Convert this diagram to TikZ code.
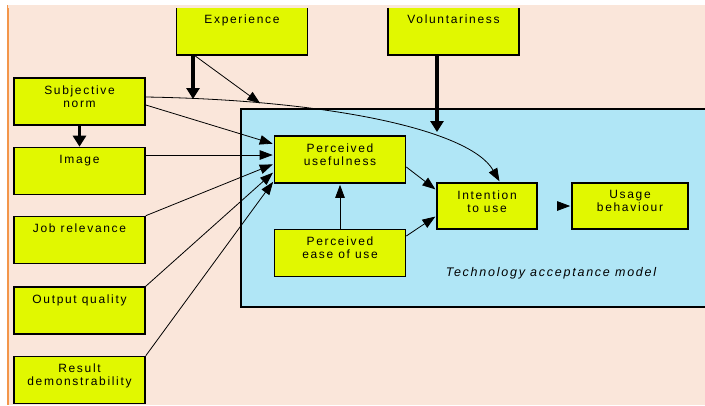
\documentclass[tikz,border=0pt]{standalone}
\usepackage{fontspec}
\setmainfont{Liberation Sans}[LetterSpace=14]
\usetikzlibrary{arrows.meta}
\definecolor{peach}{RGB}{250,230,218}
\definecolor{tamblue}{RGB}{176,230,246}
\definecolor{boxyellow}{RGB}{225,248,0}
\definecolor{edgeorange}{RGB}{243,150,75}
\begin{document}
\begin{tikzpicture}[x=1pt,y=-1pt,
  factor/.style={draw,line width=1.6pt,fill=boxyellow,minimum width=131pt,minimum height=47pt,
    inner sep=0pt,label={[factor text]north:#1}},
  factor text/.style={anchor=north,yshift=-8pt,align=center,inner sep=0pt,
    font=\fontsize{12}{13}\selectfont},
  thin arrow/.style={-{Triangle[length=13pt,width=9.5pt]},line width=0.8pt,shorten >=1pt},
  thick arrow/.style={-{Triangle[length=11pt,width=13pt]},line width=3.5pt}]

  % background and the TAM area
  \useasboundingbox (0,0) rectangle (705,405);
  \clip (0,0) rectangle (705,405);
  \fill[peach] (8,5) rectangle (705,405);
  \draw[edgeorange,line width=1.5pt] (8,5) -- (8,405);
  \draw[fill=tamblue,line width=1.5pt] (241,109) rectangle (712,307);
  \node[font=\fontsize{12.5}{14}\selectfont\itshape,xshift=1pt] (tamlabel) at (550,273) {Technology acceptance model};

  % external variables
  \node[factor=Experience,minimum height=48pt] (exper) at (242,31) {};
  \node[factor=Voluntariness,minimum height=48pt] (volun) at (453.5,31) {};
  \fill[peach] (8,5) rectangle (705,8.4);
  \node[factor={Subjective\\norm}] (subj) at (79.5,101.5) {};
  \node[factor=Image] (image) at (79.5,171) {};
  \node[factor=Job relevance] (jobrel) at (79.5,240) {};
  \node[factor=Output quality] (output) at (79.5,310.5) {};
  \node[factor={Result\\demonstrability}] (result) at (79.5,380) {};

  % TAM
  \node[factor={Perceived\\usefulness}] (pu) at (340,159.5) {};
  \node[factor={Perceived\\ease of use}] (peou) at (340,253) {};
  \node[factor={Intention\\to use},minimum width=100pt,minimum height=46pt] (itu) at (487,206) {};
  \node[factor={Usage\\behaviour},minimum width=116pt,minimum height=46pt] (ub) at (630,206) {};

  \coordinate (snorm) at (193,99);
  \coordinate (snorm2) at (261,104);
  \coordinate (volin) at (437,132);

  \draw[thin arrow] ([yshift=4.5pt]subj.east) .. controls (330,100) and (470,130) .. ([xshift=13pt]itu.north);
  \draw[thick arrow] ([xshift=-49pt]exper.south) -- (snorm);
  \draw[thin arrow] ([xshift=-47pt]exper.south) -- (snorm2);
  \draw[thick arrow] (subj) -- (image);
  \draw[thick arrow] ([xshift=-16.5pt]volun.south) -- (volin);

  \draw[thin arrow] ([yshift=-3.5pt]subj.east) -- ([yshift=15.5pt]pu.west);
  \draw[thin arrow] ([yshift=16pt]image.east) -- ([yshift=4.5pt]pu.west);
  \draw[thin arrow] (jobrel.north east) -- ([yshift=-4.5pt]pu.west);
  \draw[thin arrow] (output.north east) -- ([yshift=-12.5pt]pu.west);
  \draw[thin arrow] (result.north east) -- ([yshift=-21.5pt]pu.west);

  \draw[thin arrow] (peou) -- (pu);
  \draw[thin arrow] ([yshift=-7.5pt]pu.east) -- ([yshift=16pt]itu.west);
  \draw[thin arrow] ([yshift=17pt]peou.east) -- ([yshift=-10pt]itu.west);
  \draw[thin arrow,shorten <=21pt] (itu) -- (ub);
\end{tikzpicture}
\end{document}
